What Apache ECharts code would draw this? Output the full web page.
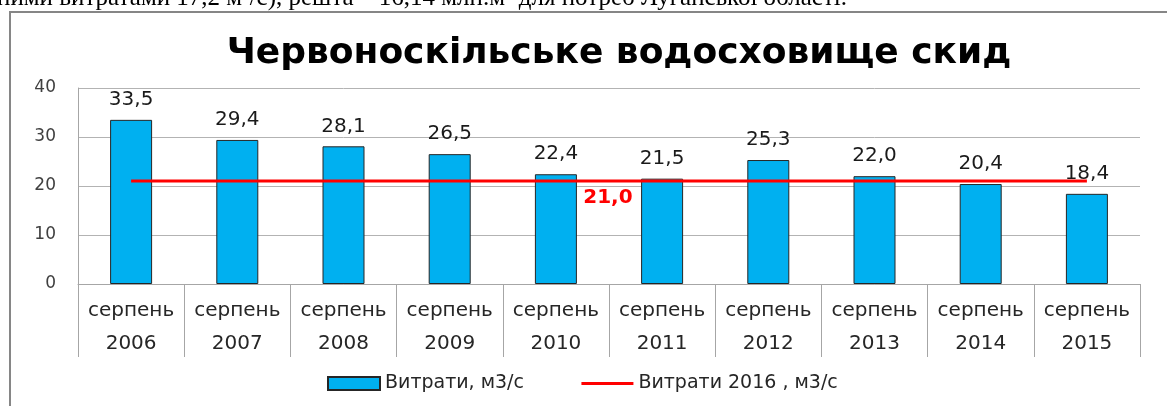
<!DOCTYPE html>
<html>
<head>
<meta charset="utf-8">
<script src="https://cdn.jsdelivr.net/npm/echarts@6/dist/echarts.min.js"></script>
<style>
  html, body { margin: 0; padding: 0; background: #fff; }
  #main { width: 1167px; height: 406px; }
</style>
</head>
<body>
<div id="main"></div>
<script>
// дані зі звіту
const months = ['серпень', 'серпень', 'серпень', 'серпень', 'серпень', 'серпень', 'серпень', 'серпень', 'серпень', 'серпень'];
const years = ['2006', '2007', '2008', '2009', '2010', '2011', '2012', '2013', '2014', '2015'];
const flows = [33.5, 29.4, 28.1, 26.5, 22.4, 21.5, 25.3, 22.0, 20.4, 18.4];
const flow2016 = [21.0, 21.0, 21.0, 21.0, 21.0, 21.0, 21.0, 21.0, 21.0, 21.0];
const yTicks = [0, 10, 20, 30, 40];
const labelIndex = 4; // де стоїть підпис 21,0

const fmt = (v) => v.toFixed(1).replace('.', ',');

const categories = months.map((m, i) => m + '\n' + years[i]);

const chart = echarts.init(document.getElementById('main'));

const option = {
  animation: false,
  backgroundColor: '#fff',
  title: {
    text: 'Червоноскільське водосховище скид',
    left: 619,
    textAlign: 'center',
    top: 36,
    padding: 0,
    textStyle: {
      fontFamily: 'DejaVu Sans',
      fontWeight: 'bold',
      fontSize: 36,
      color: '#000',
    },
  },
  graphic: [
    {
      type: 'rect',
      shape: { x: 10, y: 12, width: 1200, height: 420 },
      style: { fill: 'none', stroke: '#868686', lineWidth: 2 },
      silent: true,
    },
    {
      type: 'text',
      x: -3,
      y: 11,
      style: {
        text: 'ними витратами 17,2 м³/с), решта – 16,14 млн.м³ для потреб Луганської області.',
        font: '25px "Liberation Serif"',
        fill: '#000',
        verticalAlign: 'bottom',
      },
      silent: true,
    },
  ],
  legend: {
    left: 327,
    top: 374,
    padding: 0,
    itemWidth: 52,
    itemHeight: 13,
    itemGap: 56,
    textStyle: { fontFamily: 'DejaVu Sans', fontSize: 19, color: '#262626' },
    data: [
      { name: 'Витрати, м3/с', icon: 'rect' },
      { name: 'Витрати 2016 , м3/с', itemStyle: { opacity: 0 }, lineStyle: { width: 3 } },
    ],
  },
  grid: {
    left: 78,
    right: 27,
    top: 88,
    bottom: 122,
    containLabel: false,
    outerBoundsMode: 'none',
  },
  xAxis: {
    type: 'category',
    data: categories,
    boundaryGap: true,
    axisLine: { show: true, lineStyle: { color: '#a6a6a6', width: 1 } },
    axisTick: { show: true, length: 73, lineStyle: { color: '#a6a6a6', width: 1 } },
    axisLabel: {
      interval: 0,
      margin: 10,
      fontFamily: 'DejaVu Sans',
      fontSize: 20,
      lineHeight: 33,
      color: '#262626',
    },
  },
  yAxis: {
    type: 'value',
    min: yTicks[0],
    max: yTicks[yTicks.length - 1],
    interval: 10,
    axisLine: { show: true, lineStyle: { color: '#a6a6a6', width: 1 } },
    axisTick: { show: false },
    splitLine: { show: true, lineStyle: { color: '#b3b3b3', width: 1 } },
    axisLabel: {
      margin: 22,
      fontFamily: 'DejaVu Sans',
      fontSize: 17,
      color: '#404040',
    },
  },
  series: [
    {
      name: 'Витрати, м3/с',
      type: 'bar',
      data: flows,
      barWidth: 42,
      itemStyle: { color: '#00b0f0', borderColor: '#262626', borderWidth: 1 },
      label: {
        show: true,
        position: 'top',
        distance: 10,
        formatter: (p) => fmt(p.value),
        fontFamily: 'DejaVu Sans',
        fontSize: 20,
        color: '#1a1a1a',
      },
      z: 2,
    },
    {
      name: 'Витрати 2016 , м3/с',
      type: 'line',
      data: flow2016,
      symbol: 'none',
      lineStyle: { color: '#ff0000', width: 3 },
      itemStyle: { color: '#ff0000' },
      markPoint: {
        symbol: 'circle',
        symbolSize: 1,
        itemStyle: { color: 'rgba(0,0,0,0)' },
        label: {
          show: true,
          position: 'bottom',
          distance: 6,
          offset: [52, 0],
          formatter: () => fmt(flow2016[labelIndex]),
          color: '#ff0000',
          fontWeight: 'bold',
          fontSize: 20,
          fontFamily: 'DejaVu Sans',
        },
        data: [{ coord: [labelIndex, flow2016[labelIndex]] }],
      },
      z: 3,
    },
  ],
};

chart.setOption(option);
</script>
</body>
</html>
